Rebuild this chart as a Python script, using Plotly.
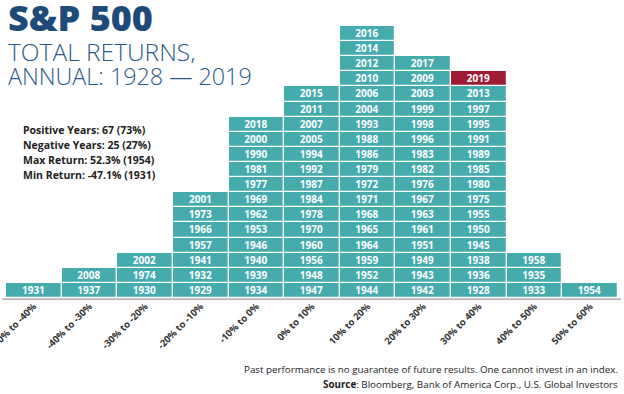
import plotly.graph_objects as go

# ---------------- data ----------------
bins = ["-50% to -40%", "-40% to -30%", "-30% to -20%", "-20% to -10%", "-10% to 0%",
        "0% to 10%", "10% to 20%", "20% to 30%", "30% to 40%", "40% to 50%", "50% to 60%"]

years_m50_m40 = [1931]
years_m40_m30 = [1937, 2008]
years_m30_m20 = [1930, 1974, 2002]
years_m20_m10 = [1929, 1932, 1941, 1957, 1966, 1973, 2001]
years_m10_0 = [1934, 1939, 1940, 1946, 1953, 1962, 1969, 1977, 1981, 1990, 2000, 2018]
years_0_10 = [1947, 1948, 1956, 1960, 1970, 1978, 1984, 1987, 1992, 1994, 2005, 2007, 2011, 2015]
years_10_20 = [1944, 1952, 1959, 1964, 1965, 1968, 1971, 1972, 1979, 1986, 1988, 1993,
               2004, 2006, 2010, 2012, 2014, 2016]
years_20_30 = [1942, 1943, 1949, 1951, 1961, 1963, 1967, 1976, 1982, 1983, 1996, 1998,
               1999, 2003, 2009, 2017]
years_30_40 = [1928, 1936, 1938, 1945, 1950, 1955, 1975, 1980, 1985, 1989, 1991, 1995,
               1997, 2013, 2019]
years_40_50 = [1933, 1935, 1958]
years_50_60 = [1954]

highlight_year = 2019

stats_lines = ["Positive Years: 67 (73%)", "Negative Years: 25 (27%)",
               "Max Return: 52.3% (1954)", "Min Return: -47.1% (1931)"]

# ---------------- build cells ----------------
columns = [years_m50_m40, years_m40_m30, years_m30_m20, years_m20_m10, years_m10_0,
           years_0_10, years_10_20, years_20_30, years_30_40, years_40_50, years_50_60]

TEAL = "#45ABAD"
RED = "#9E1B34"

xs, bases, ys, texts, colors = [], [], [], [], []
for label, yrs in zip(bins, columns):
    for level, yr in enumerate(yrs):
        xs.append(label)
        bases.append(level)
        ys.append(1)
        texts.append(str(yr))
        colors.append(RED if yr == highlight_year else TEAL)

fig = go.Figure(go.Bar(
    x=xs, y=ys, base=bases, text=texts,
    width=1,
    marker=dict(color=colors, line=dict(color="white", width=1.2)),
    textposition="inside", insidetextanchor="middle", textangle=0,
    constraintext="none",
    textfont=dict(family="Open Sans", size=10, color="white", weight="bold"),
    hoverinfo="skip", cliponaxis=False,
))

W, H = 624, 394
L, R, T, B = 6, 6, 26, 96
pw, ph = W - L - R, H - T - B


def px(x):
    return (x - L) / pw


def py(y):
    return (H - B - y) / ph


ann = []
ann.append(dict(text="S&P 500", x=px(6), y=py(17), xanchor="left", yanchor="middle", height=34,
                font=dict(family="Open Sans", size=36, color="#1E4A7A", weight=800)))
ann.append(dict(text="TOTAL RETURNS,", x=px(6), y=py(51), xanchor="left", yanchor="middle", height=24,
                font=dict(family="Open Sans", size=24.5, color="#2A5A8C", weight=300)))
ann.append(dict(text="ANNUAL: 1928 \u2014 2019", x=px(6), y=py(76), xanchor="left", yanchor="middle",
                height=24, font=dict(family="Open Sans", size=23.3, color="#2A5A8C", weight=300)))
for i, line in enumerate(stats_lines):
    ann.append(dict(text=line, x=px(21), y=py(130 + 15 * i), xanchor="left", yanchor="middle",
                    font=dict(family="Open Sans", size=10.5, color="#222222", weight="bold")))
ann.append(dict(text="Past performance is no guarantee of future results. One cannot invest in an index.",
                x=px(620), y=py(369), xanchor="right", yanchor="middle",
                font=dict(family="Open Sans", size=9.8, color="#222222")))
ann.append(dict(text="<b>Source</b>: Bloomberg, Bank of America Corp., U.S. Global Investors",
                x=px(620), y=py(384), xanchor="right", yanchor="middle",
                font=dict(family="Open Sans", size=9.8, color="#222222")))
for a in ann:
    a.update(xref="paper", yref="paper", showarrow=False)

fig.update_layout(
    width=W, height=H,
    margin=dict(l=L, r=R, t=T, b=B, pad=0, autoexpand=False),
    paper_bgcolor="white", plot_bgcolor="white",
    barmode="overlay", bargap=0,
    showlegend=False,
    annotations=ann,
    shapes=[dict(type="line", xref="paper", yref="paper", x0=px(2), x1=px(621), y0=-0.004, y1=-0.004,
                 line=dict(color="#9A9A9A", width=1.2))],
    xaxis=dict(type="category", categoryorder="array", categoryarray=bins,
               range=[-0.5, len(bins) - 0.5], tickangle=-45, showgrid=False,
               zeroline=False, showline=False, ticks="", automargin=False,
               tickfont=dict(family="Open Sans", size=9.5, color="#333333", weight="bold")),
    yaxis=dict(range=[0, 18], visible=False, fixedrange=True, automargin=False),
)

fig.write_html("out.html", config={"displayModeBar": False},
               post_script="document.body.style.margin='0';document.body.style.overflow='hidden';")
